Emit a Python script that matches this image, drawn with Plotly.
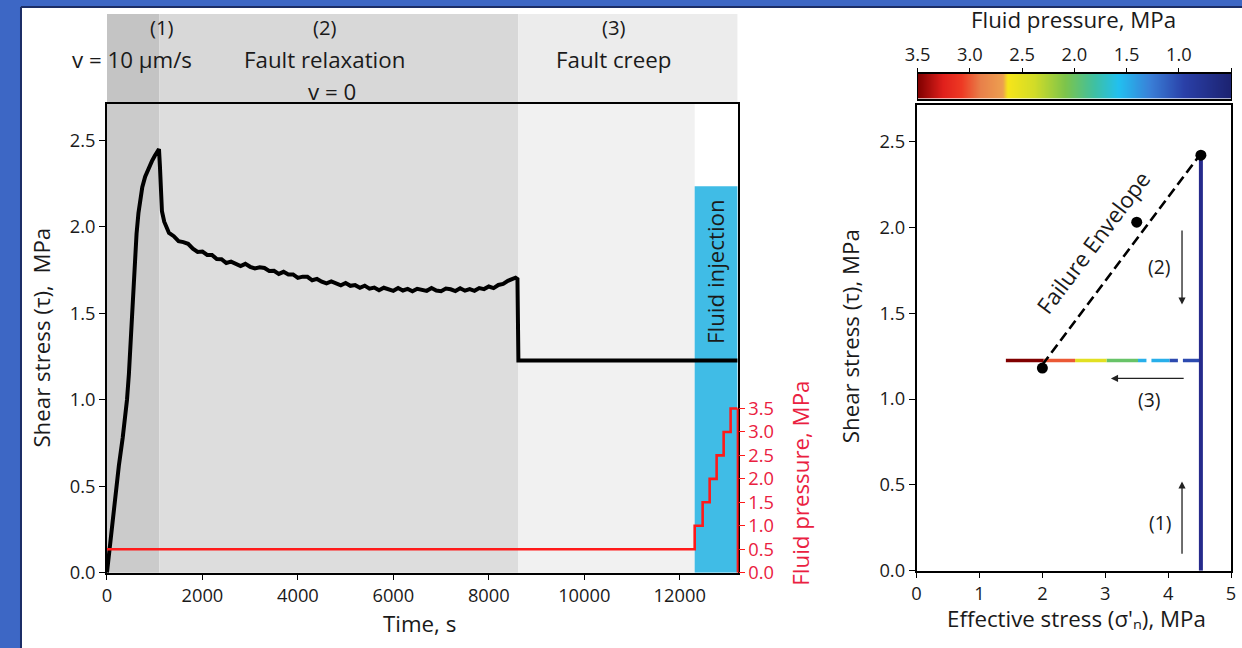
import plotly.graph_objects as go

W, H = 1242, 648

# ---------------- data ----------------
phase_labels = ["(1)", "(2)", "(3)"]
phase_desc = ["v = 10 μm/s", "Fault relaxation", "Fault creep"]
phase_bounds_s = [0, 1100, 8620, 12313, 13213]

# (1) loading
load_t = [0, 50, 100, 170, 250, 330, 380, 420, 460, 500, 540, 580, 620, 660, 700, 740, 800, 870, 942, 1000, 1047, 1090]
load_tau = [0.0, 0.13, 0.26, 0.45, 0.62, 0.78, 0.89, 1.0, 1.15, 1.36, 1.6, 1.8, 1.96, 2.08, 2.17, 2.23, 2.29, 2.34, 2.38, 2.41, 2.43, 2.45]
# (2) relaxation
relax_t = [1110, 1130, 1152, 1200, 1250, 1300,
           1400, 1500, 1600, 1700, 1800, 1900, 2000, 2100, 2200, 2300,
           2400, 2500, 2600, 2700, 2800, 2900, 3000, 3100, 3200, 3300,
           3400, 3500, 3600, 3700, 3800, 3900, 4000, 4100, 4200, 4300,
           4400, 4500, 4600, 4700, 4800, 4900, 5000, 5100, 5200, 5300,
           5400, 5500, 5600, 5700, 5800, 5900, 6000, 6100, 6200, 6300,
           6400, 6500, 6600, 6700, 6800, 6900, 7000, 7100, 7200, 7300,
           7400, 7500, 7600, 7700, 7800, 7900, 8000, 8100, 8200, 8300,
           8400, 8500, 8560, 8600]
relax_tau = [2.35, 2.20, 2.09, 2.03, 1.99, 1.965,
             1.946, 1.917, 1.912, 1.902, 1.874, 1.855, 1.857, 1.838, 1.838, 1.814,
             1.813, 1.791, 1.799, 1.786, 1.773, 1.786, 1.769, 1.760, 1.766, 1.762,
             1.745, 1.746, 1.728, 1.740, 1.724, 1.725, 1.705, 1.712, 1.711, 1.691,
             1.699, 1.683, 1.673, 1.684, 1.676, 1.662, 1.675, 1.659, 1.663, 1.648,
             1.660, 1.643, 1.649, 1.633, 1.648, 1.641, 1.630, 1.646, 1.632, 1.641,
             1.627, 1.642, 1.637, 1.630, 1.646, 1.632, 1.628, 1.643, 1.639, 1.629,
             1.645, 1.631, 1.640, 1.630, 1.646, 1.640, 1.655, 1.646, 1.664, 1.670,
             1.688, 1.702, 1.706, 1.698]
# (3) creep
creep_t = [8620, 13213]
creep_tau_t = [1.227, 1.227]

pf_time_s = [0, 12313, 12480, 12627, 12773, 12920, 13066, 13213]
pf_mpa = [0.5, 1.0, 1.5, 2.0, 2.5, 3.0, 3.5, 3.5]

time_ticks = [0, 2000, 4000, 6000, 8000, 10000, 12000]
shear_ticks = [0.0, 0.5, 1.0, 1.5, 2.0, 2.5]
pf_ticks = [0.0, 0.5, 1.0, 1.5, 2.0, 2.5, 3.0, 3.5]
injection_top_mpa = 2.235

# right panel
load_sigma = [4.52, 4.52]
load_tau_r = [0.0, 2.42]
creep_tau = 1.225
creep_pf = [0.5, 1.0, 1.5, 2.0, 2.5, 3.0, 3.5]
creep_sigma = [4.52, 4.02, 3.52, 3.02, 2.52, 2.02, 1.42]
state_sigma = [4.52, 3.5, 2.0]
state_tau = [2.42, 2.03, 1.18]
env_sigma = [2.0, 4.5]
env_tau = [1.2, 2.42]
sigma_ticks = [0, 1, 2, 3, 4, 5]
cbar_ticks = [3.5, 3.0, 2.5, 2.0, 1.5, 1.0, 0.5]

# ---------------- styling ----------------
FONT = "Open Sans"
TXT = "#1a1a1a"
RED = "#ff1a1a"
REDTXT = "#ea2040"
CYAN = "#40bce6"
NAVY = "#262a8c"

cscale = [
    [0.0, "#1c2270"], [0.15, "#2a40a8"], [0.26, "#3a80d8"], [0.36, "#22c0f0"],
    [0.44, "#40c0a0"], [0.53, "#7cc44c"], [0.63, "#d2dc28"], [0.715, "#f7e51a"],
    [0.73, "#eda050"], [0.80, "#e8804a"], [0.86, "#ee3a24"], [0.92, "#e0201c"],
    [1.0, "#800000"],
]
PMIN, PMAX = 0.5, 3.5


def color_at(p):
    f = (p - PMIN) / (PMAX - PMIN)
    f = max(0.0, min(1.0, f))
    for (f0, c0), (f1, c1) in zip(cscale[:-1], cscale[1:]):
        if f0 <= f <= f1:
            t = 0 if f1 == f0 else (f - f0) / (f1 - f0)
            a = [int(c0[i:i + 2], 16) for i in (1, 3, 5)]
            b = [int(c1[i:i + 2], 16) for i in (1, 3, 5)]
            r = [round(a[k] + (b[k] - a[k]) * t) for k in range(3)]
            return "rgb(%d,%d,%d)" % tuple(r)
    return cscale[-1][1]


# compensation of the observed page placement (picture px -> layout fraction)
SX, OX = 0.986, 11.0
SY, OY = 0.987, -2.0


def px(x):
    return (x - OX) / SX / W


def py(y):
    return 1 - (y - OY) / SY / H


def clamp(v):
    return max(0.0, min(1.0, v))


def fs(s):
    return round(s / SX, 1)


fig = go.Figure()

# ---- left panel traces ----
fig.add_trace(go.Scatter(x=pf_time_s, y=pf_mpa, mode="lines", line=dict(color=RED, width=2.6, shape="hv"),
                         xaxis="x", yaxis="y2", hoverinfo="skip"))
fig.add_trace(go.Scatter(x=load_t + relax_t + creep_t, y=load_tau + relax_tau + creep_tau_t, mode="lines",
                         line=dict(color="black", width=4), xaxis="x", yaxis="y", hoverinfo="skip"))

# ---- right panel traces ----
for i in range(len(creep_sigma) - 1):
    dash = "18px,5px,10px,5px" if creep_pf[i + 1] <= 1.5 else "solid"
    fig.add_trace(go.Scatter(x=[creep_sigma[i], creep_sigma[i + 1]], y=[creep_tau, creep_tau], mode="lines",
                             line=dict(color=color_at(creep_pf[i + 1]), width=3.5, dash=dash),
                             xaxis="x2", yaxis="y3", hoverinfo="skip"))
fig.add_trace(go.Scatter(x=load_sigma, y=load_tau_r, mode="lines", line=dict(color=NAVY, width=4),
                         xaxis="x2", yaxis="y3", hoverinfo="skip"))
fig.add_trace(go.Scatter(x=env_sigma, y=env_tau, mode="lines", line=dict(color="black", width=2.6, dash="10px,5px"),
                         xaxis="x2", yaxis="y3", hoverinfo="skip"))
fig.add_trace(go.Scatter(x=state_sigma, y=state_tau, mode="markers", marker=dict(color="black", size=11),
                         xaxis="x2", yaxis="y3", hoverinfo="skip"))

# ---- colour bar ----
fig.add_trace(go.Heatmap(x=cbar_ticks, y=[0], z=[cbar_ticks], zmin=PMIN, zmax=PMAX, colorscale=cscale,
                         zsmooth="best", showscale=False, xaxis="x3", yaxis="y4", hoverinfo="skip"))

axis_common = dict(showgrid=False, zeroline=False, showline=True, linecolor="black", linewidth=1.5,
                   ticks="outside", ticklen=6, tickwidth=1.3, tickcolor="black",
                   tickfont=dict(family=FONT, size=fs(18), color=TXT))

shapes = []
shapes.append(dict(type="rect", xref="paper", yref="paper", x0=px(-20), x1=px(19), y0=py(700), y1=py(-20),
                   fillcolor="#3d67c5", line=dict(width=0), layer="below"))
shapes.append(dict(type="rect", xref="paper", yref="paper", x0=px(-20), x1=px(1300), y0=py(5), y1=py(-20),
                   fillcolor="#3d67c5", line=dict(width=0), layer="below"))
shapes.append(dict(type="line", xref="paper", yref="paper", x0=px(19), x1=px(19), y0=py(700), y1=py(5),
                   line=dict(color="#1b2d66", width=2)))
shapes.append(dict(type="line", xref="paper", yref="paper", x0=px(19), x1=px(1300), y0=py(5), y1=py(5),
                   line=dict(color="#1b2d66", width=2)))

plot_fills = ["#cbcbcb", "#dddddd", "#f1f1f1"]
head_fills = ["#c4c4c4", "#d8d8d8", "#ececec"]
for i in range(3):
    shapes.append(dict(type="rect", xref="x", yref="y domain", x0=phase_bounds_s[i], x1=phase_bounds_s[i + 1],
                       y0=0, y1=1, fillcolor=plot_fills[i], line=dict(width=0), layer="below"))
    x1 = phase_bounds_s[i + 1] if i < 2 else phase_bounds_s[4]
    shapes.append(dict(type="rect", xref="x", yref="paper", x0=phase_bounds_s[i], x1=x1,
                       y0=py(102), y1=py(12), fillcolor=head_fills[i], line=dict(width=0), layer="below"))
shapes.append(dict(type="rect", xref="x", yref="y", x0=phase_bounds_s[3], x1=phase_bounds_s[4],
                   y0=0, y1=injection_top_mpa, fillcolor=CYAN, line=dict(width=0), layer="below"))
shapes.append(dict(type="line", xref="x domain", yref="y2", x0=1, x1=1, y0=0, y1=pf_ticks[-1],
                   line=dict(color=RED, width=2)))

ann = []


def txt(x, y, s, size=22, color=TXT, angle=0, xref="paper", yref="paper"):
    ann.append(dict(x=x, y=y, xref=xref, yref=yref, text=s, showarrow=False, textangle=angle,
                    font=dict(family=FONT, size=fs(size), color=color), xanchor="center", yanchor="middle"))


txt(px(160), py(25), phase_labels[0], size=20)
txt(px(130), py(58), phase_desc[0])
txt(px(323), py(25), phase_labels[1], size=20)
txt(px(323), py(58), phase_desc[1])
txt(px(330), py(90), "v = 0")
txt(px(612), py(25), phase_labels[2], size=20)
txt(px(612), py(58), phase_desc[2])
txt((phase_bounds_s[3] + phase_bounds_s[4]) / 2, 1.74, "Fluid injection", angle=-90, xref="x", yref="y")
txt(px(418), py(624), "Time, s")
txt(px(40), py(337), "Shear stress (τ),  MPa", angle=-90)
txt(px(798), py(483), "Fluid pressure, MPa", color=REDTXT, angle=-90)
txt(px(849), py(336), "Shear stress (τ), MPa", angle=-90)
txt(px(1075), py(619), "Effective stress (σ'ₙ), MPa")
txt(px(1072), py(18), "Fluid pressure, MPa")
txt(2.81, 1.91, "Failure Envelope", angle=-53, xref="x2", yref="y3")
txt(3.87, 0.28, "(1)", size=19, xref="x2", yref="y3")
txt(3.86, 1.77, "(2)", size=19, xref="x2", yref="y3")
txt(3.70, 1.00, "(3)", size=19, xref="x2", yref="y3")


def arrow(x0, y0, x1, y1):
    ann.append(dict(x=x1, y=y1, ax=x0, ay=y0, xref="x2", yref="y3", axref="x2", ayref="y3", text="",
                    showarrow=True, arrowhead=2, arrowsize=1.1, arrowwidth=1.3, arrowcolor="#222"))


arrow(4.22, 1.99, 4.22, 1.55)
arrow(4.27, 1.12, 3.09, 1.12)
arrow(4.22, 0.09, 4.22, 0.52)

RIGHT_EDGE = 1229.7

fig.update_layout(
    width=W, height=H, margin=dict(l=0, r=0, t=0, b=0),
    paper_bgcolor="white", plot_bgcolor="white", showlegend=False,
    font=dict(family=FONT, color=TXT),
    xaxis=dict(axis_common, domain=[px(105), px(736)], range=[0, phase_bounds_s[-1]], tickvals=time_ticks,
               tickformat="d", anchor="y", mirror=True),
    yaxis=dict(axis_common, domain=[py(573), py(102)], range=[0, 2.713], tickvals=shear_ticks,
               tickformat=".1f", anchor="x", mirror=True),
    yaxis2=dict(axis_common, overlaying="y", side="right", anchor="x", range=[0, 10.0], tickvals=pf_ticks,
                tickformat=".1f", showline=False, tickcolor=RED,
                tickfont=dict(family=FONT, size=fs(18), color=REDTXT)),
    xaxis2=dict(axis_common, domain=[px(915), clamp(px(RIGHT_EDGE))], range=[0, 5], tickvals=sigma_ticks,
                anchor="y3", mirror=True),
    yaxis3=dict(axis_common, domain=[py(571), py(103)], range=[0, 2.715], tickvals=shear_ticks,
                tickformat=".1f", anchor="x2", mirror=True),
    xaxis3=dict(axis_common, domain=[px(916), clamp(px(RIGHT_EDGE))], range=[3.5, 0.4999], tickvals=cbar_ticks,
                tickformat=".1f", side="top", anchor="y4", mirror=True, ticklen=4),
    yaxis4=dict(showgrid=False, zeroline=False, showline=True, linecolor="black", linewidth=1.3, mirror=True,
                domain=[py(97), py(72)], range=[-0.5, 0.5], showticklabels=False, ticks="", anchor="x3"),
    shapes=shapes, annotations=ann,
)

fig.write_html("out.html")
